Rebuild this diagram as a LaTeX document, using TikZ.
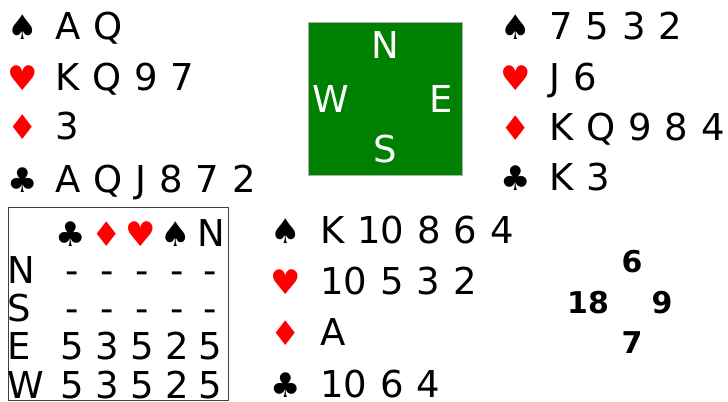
\documentclass[tikz,border=0pt]{standalone}
\usepackage{fontspec}
\setmainfont[WordSpace=1.1]{DejaVu Sans}
\definecolor{cardred}{RGB}{255,0,0}
\definecolor{felt}{RGB}{0,128,0}
\definecolor{feltedge}{RGB}{175,175,175}
\begin{document}
\begin{tikzpicture}[x=1bp,y=-1bp,
  txt/.style={anchor=base west, inner sep=0, font=\fontsize{37bp}{44bp}\selectfont},
  suit/.style={anchor=base, inner sep=0, font=\fontsize{34bp}{40bp}\selectfont},
  redsuit/.style={suit, text=cardred},
  cell/.style={anchor=base, inner sep=0, font=\fontsize{37bp}{44bp}\selectfont},
  rowlab/.style={anchor=base west, inner sep=0, font=\fontsize{37bp}{44bp}\selectfont},
  compass/.style={anchor=base, inner sep=0, text=white, font=\fontsize{37bp}{44bp}\selectfont},
  score/.style={anchor=base, inner sep=0, font=\fontsize{30bp}{36bp}\selectfont\bfseries}]
\path[use as bounding box] (0,0) rectangle (728,401);
% West hand
\node[suit] (ws) at (23,39) {♠};
\node[txt] (wst) at (55,39) {A Q};
\node[redsuit] (wh) at (23,90) {♥};
\node[txt] (wht) at (55,90) {K Q 9 7};
\node[redsuit] (wd) at (23,139) {♦};
\node[txt] (wdt) at (55,139) {3};
\node[suit] (wc) at (23,192) {♣};
\node[txt] (wct) at (55,192) {A Q J 8 7 2};
% East hand
\node[suit] (es) at (516,39) {♠};
\node[txt] (est) at (549,39) {7 5 3 2};
\node[redsuit] (eh) at (516,90) {♥};
\node[txt] (eht) at (549,90) {J 6};
\node[redsuit] (ed) at (516,140) {♦};
\node[txt] (edt) at (549,140) {K Q 9 8 4};
\node[suit] (ec) at (516,190) {♣};
\node[txt] (ect) at (549,190) {K 3};
% South hand
\node[suit] (ss) at (286,243) {♠};
\node[txt] (sst) at (320,243) {K 10 8 6 4};
\node[redsuit] (sh) at (286,294) {♥};
\node[txt] (sht) at (320,294) {10 5 3 2};
\node[redsuit] (sd) at (286,345) {♦};
\node[txt] (sdt) at (320,345) {A};
\node[suit] (sc) at (286,397) {♣};
\node[txt] (sct) at (320,397) {10 6 4};
% Compass
\draw[fill=felt, draw=feltedge, line width=0.75bp] (308,22) rectangle (462,175);
\node[compass] (cn) at (385,58) {N};
\node[compass] (cw) at (331,112) {W};
\node[compass] (ce) at (441,112) {E};
\node[compass] (cs) at (385,162) {S};
% Table
\draw[draw=black!75, line width=0.9bp] (8,207) rectangle (228,400);
\node[suit] (hc) at (71,246) {♣};
\node[redsuit] (hd) at (107,246) {♦};
\node[redsuit] (hh) at (141,246) {♥};
\node[suit] (hs) at (176,246) {♠};
\node[cell] (hn) at (211,246) {N};
\node[rowlab] (rn) at (7,283) {N};
\node[rowlab] (rs) at (7,321) {S};
\node[rowlab] (re) at (7,359) {E};
\node[rowlab] (rw) at (7,398) {W};
\foreach \x [count=\i] in {72,107,142,177,210} {
  \node[cell] (n\i) at (\x,283) {-};
  \node[cell] (s\i) at (\x,321) {-};
}
\foreach \x/\v [count=\i] in {72/5,107/3,142/5,177/2,210/5} {
  \node[cell] (e\i) at (\x,359) {\v};
  \node[cell] (w\i) at (\x,398) {\v};
}
% Score
\node[score] (pn) at (632,272) {6};
\node[score] (pw) at (588,313) {18};
\node[score] (pe) at (662,313) {9};
\node[score] (ps) at (632,353) {7};
\end{tikzpicture}
\end{document}
